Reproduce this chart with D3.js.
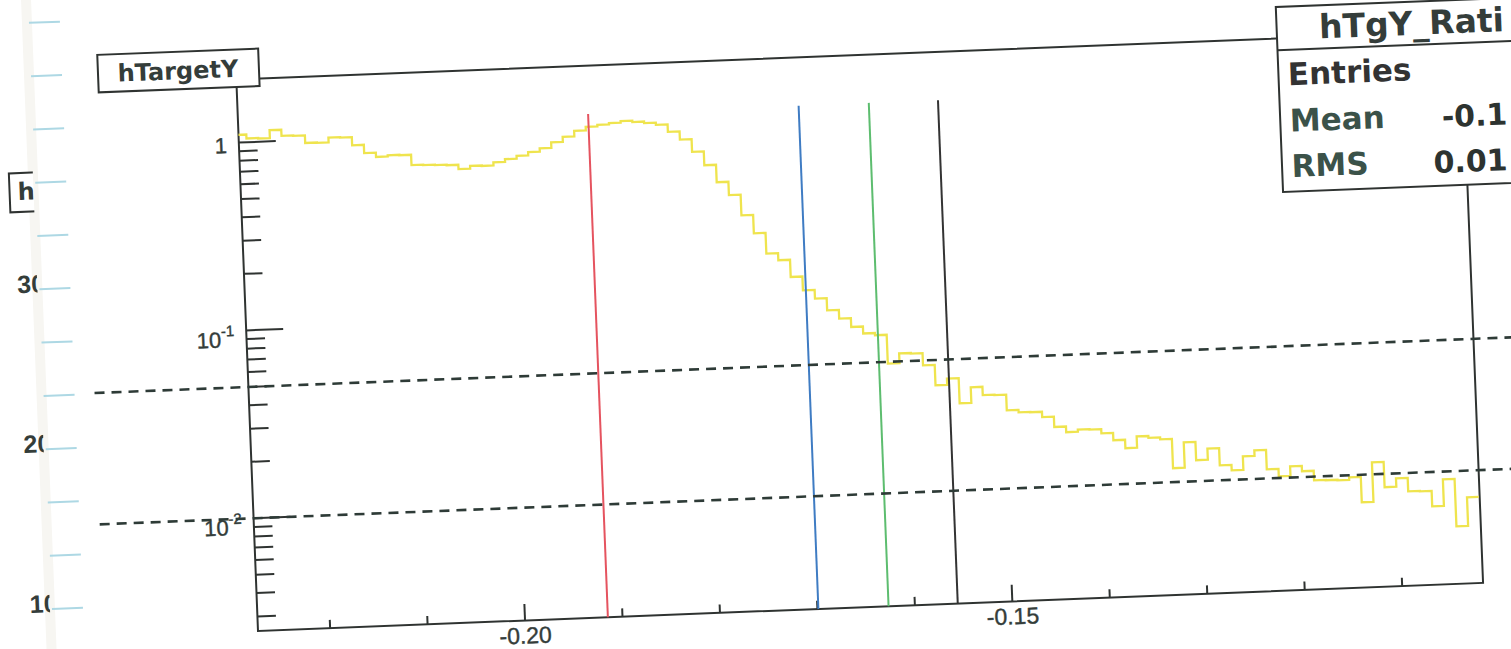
<!DOCTYPE html>
<html><head><meta charset="utf-8">
<script src="https://cdn.jsdelivr.net/npm/d3@7"></script>
<style>html,body{margin:0;padding:0;background:#fff;overflow:hidden}</style>
</head><body>
<svg id="c" width="1511" height="649"></svg>
<script>
// ---------------- data ----------------
const binStart = -0.2278;
const binWidth = 0.0012;
const hTargetY = [
 1.10, 1.047, 1.041, 1.146, 1.063, 1.057, 0.964, 0.959, 1.018, 1.012,
 0.916, 0.827, 0.785, 0.797, 0.793, 0.698, 0.694, 0.690, 0.686, 0.650,
 0.672, 0.668, 0.694, 0.718, 0.744, 0.775, 0.807, 0.862, 0.918, 0.983,
 1.025, 1.044, 1.063, 1.083, 1.064, 1.045, 1.016, 0.927, 0.838, 0.718,
 0.606, 0.489, 0.415, 0.322, 0.257, 0.1995, 0.1827, 0.148, 0.125, 0.1123,
 0.0967, 0.0869, 0.078, 0.0716, 0.0697, 0.0489, 0.0551, 0.0547, 0.0471, 0.0367,
 0.0396, 0.0291, 0.0352, 0.0318, 0.0316, 0.0261, 0.0253, 0.0252, 0.0236, 0.0208,
 0.0194, 0.0199, 0.0198, 0.0188, 0.0172, 0.0155, 0.0178, 0.0174, 0.0170, 0.01186,
 0.0162, 0.01294, 0.01483, 0.0120, 0.01124, 0.01327, 0.01419, 0.01119, 0.0102, 0.01148,
 0.01074, 0.00955, 0.00951, 0.00945, 0.00975, 0.00714, 0.01159, 0.00849, 0.00942, 0.00798,
 0.00793, 0.00656, 0.00909, 0.00508, 0.00721
];
const xDomain = [-0.2274, -0.1017];
const yDomain = [0.002512, 2.168];
const xMajorTicks = [-0.20, -0.15];
const xTickLabels = ["-0.20", "-0.15"];
const yMajorTicks = [1, 0.1, 0.01];
const yTickLabels = [["1", ""], ["10", "-1"], ["10", "-2"]];
const cutValues = [-0.1915, -0.1699, -0.1627, -0.1556];
const cutTop = 1.2;
const refLevels = [0.05, 0.01];
const histTitle = "hTargetY";
const statsTitle = "hTgY_Rati";
const statsLabels = ["Entries", "Mean", "RMS"];
const statsValues = ["", "-0.1", "0.01"];
// remnant of the neighbouring pad on the far left
const remTitle = "h";
const remLabels = ["30", "20", "10"];
const remLabelValues = [30, 20, 10];

// ---------------- layout ----------------
const W = 1226, H = 552;
const svg = d3.select("#c");
svg.append("rect").attr("width", 1511).attr("height", 649).attr("fill", "#fff");

const g = svg.append("g").attr("transform", "translate(258,631) rotate(-2.25)");

const x = d3.scaleLinear().domain(xDomain).range([0, W]);
const y = d3.scaleLog().domain(yDomain).range([0, -H]);

const ink = "#2f3331";
const txt = "#343d3a";

// clip paths
const defs = svg.append("defs");
defs.append("clipPath").attr("id", "frameClip")
  .append("rect").attr("x", 0).attr("y", -H).attr("width", W).attr("height", H);
defs.append("clipPath").attr("id", "remClip")
  .append("rect").attr("x", -400).attr("y", -700).attr("width", 193).attr("height", 800);

// ----- remnant pad on the left -----
const remY = d3.scaleLinear().domain([10, 30]).range([-30, -350]);
const rem = g.append("g");
rem.append("rect").attr("x", -212).attr("y", -700).attr("width", 10).attr("height", 760)
  .attr("fill", "#f7f6f2");
const remTicks = d3.range(0, 12).map(k => 10 + k * 10 / 3);
rem.selectAll("line.rt").data(remTicks).join("line")
  .attr("x1", -205).attr("x2", -174)
  .attr("y1", d => remY(d)).attr("y2", d => remY(d))
  .attr("stroke", "#add8e4").attr("stroke-width", 2);
const remC = rem.append("g").attr("clip-path", "url(#remClip)");
remC.append("rect").attr("x", -231).attr("y", -467).attr("width", 60).attr("height", 39)
  .attr("fill", "#fff").attr("stroke", ink).attr("stroke-width", 2);
remC.append("text").attr("x", -223).attr("y", -440).text(remTitle)
  .attr("font-family", "DejaVu Sans").attr("font-weight", "bold").attr("font-size", 24).attr("fill", txt);
remC.selectAll("text.rl").data(remLabels).join("text")
  .attr("x", -227).attr("y", (d, i) => remY(remLabelValues[i]) + 3).text(d => d)
  .attr("font-family", "Liberation Sans").attr("font-weight", "bold").attr("font-size", 25).attr("fill", txt);

// ----- frame -----
g.append("rect").attr("x", 0).attr("y", -H).attr("width", W).attr("height", H)
  .attr("fill", "none").attr("stroke", ink).attr("stroke-width", 2);

// x ticks
const xt = x.ticks(13);
g.selectAll("line.xt").data(xt).join("line")
  .attr("x1", d => x(d)).attr("x2", d => x(d)).attr("y1", 0)
  .attr("y2", d => xMajorTicks.some(m => Math.abs(m - d) < 1e-9) ? -16.6 : -8.3)
  .attr("stroke", ink).attr("stroke-width", 2);
g.selectAll("text.xl").data(xMajorTicks).join("text")
  .attr("x", d => x(d)).attr("y", 23).attr("text-anchor", "middle")
  .text((d, i) => xTickLabels[i])
  .attr("font-family", "Liberation Sans").attr("font-size", 23).attr("fill", txt)
  .attr("stroke", txt).attr("stroke-width", 0.4);

// y ticks
const yt = y.ticks();
const isMajor = t => Math.abs(Math.log10(t) - Math.round(Math.log10(t))) < 1e-6;
g.selectAll("line.yt").data(yt).join("line")
  .attr("x1", 0).attr("x2", d => isMajor(d) ? 37 : 18.5)
  .attr("y1", d => y(d)).attr("y2", d => y(d))
  .attr("stroke", ink).attr("stroke-width", 2);
yMajorTicks.forEach((v, i) => {
  const [base, sup] = yTickLabels[i];
  const t = g.append("text").attr("x", -12).attr("y", y(v) + (sup ? 16 : 10))
    .attr("text-anchor", "end")
    .attr("font-family", "Liberation Sans").attr("font-size", 22).attr("fill", txt)
    .attr("stroke", txt).attr("stroke-width", 0.4);
  t.append("tspan").text(base);
  if (sup) t.append("tspan").attr("dy", -11).attr("font-size", 15).text(sup);
});

// ----- histogram -----
const pts = hTargetY.map((v, i) => [binStart + i * binWidth, v]);
pts.push([binStart + hTargetY.length * binWidth, hTargetY[hTargetY.length - 1]]);
const line = d3.line().x(d => x(d[0])).y(d => y(d[1])).curve(d3.curveStepAfter);
g.append("path").attr("d", line(pts)).attr("clip-path", "url(#frameClip)")
  .attr("fill", "none").attr("stroke", "#efe44e").attr("stroke-width", 2.3);

// ----- cut lines -----
const cutColors = ["#e5535f", "#3f7cc3", "#5dbd6f", "#333333"];
g.selectAll("line.cut").data(cutValues).join("line")
  .attr("x1", d => x(d)).attr("x2", d => x(d))
  .attr("y1", y(yDomain[0])).attr("y2", y(cutTop))
  .attr("stroke", (d, i) => cutColors[i]).attr("stroke-width", 2);

// ----- reference dashed levels -----
g.selectAll("line.ref").data(refLevels).join("line")
  .attr("x1", -154).attr("x2", 1320)
  .attr("y1", d => y(d)).attr("y2", d => y(d))
  .attr("stroke", "#2e3b37").attr("stroke-width", 2.6).attr("stroke-dasharray", "10,7");

// ----- title box -----
g.append("rect").attr("x", -138).attr("y", -582).attr("width", 161).attr("height", 37.5)
  .attr("fill", "#fff").attr("stroke", ink).attr("stroke-width", 2);
g.append("text").attr("x", -58).attr("y", -554.5).attr("text-anchor", "middle").text(histTitle)
  .attr("font-family", "DejaVu Sans").attr("font-weight", "bold").attr("font-size", 24).attr("fill", txt);

// ----- stats box -----
g.append("rect").attr("x", 1041.5).attr("y", -583.5).attr("width", 420).attr("height", 185)
  .attr("fill", "#fff").attr("stroke", ink).attr("stroke-width", 2);
g.append("line").attr("x1", 1041.5).attr("x2", 1461.5).attr("y1", -540.4).attr("y2", -540.4)
  .attr("stroke", ink).attr("stroke-width", 2);
g.append("text").attr("x", 1084).attr("y", -550.5).text(statsTitle)
  .attr("font-family", "DejaVu Sans").attr("font-weight", "bold").attr("font-size", 33).attr("fill", txt);
const rowY = [-505, -458.5, -413];
const valX = [0, 1203, 1193];
statsLabels.forEach((s, i) => {
  g.append("text").attr("x", 1051).attr("y", rowY[i]).text(s)
    .attr("font-family", "DejaVu Sans").attr("font-weight", "bold").attr("font-size", 31)
    .attr("fill", i === 0 ? "#333" : "#3b5249");
  if (statsValues[i]) g.append("text").attr("x", valX[i]).attr("y", rowY[i] + 1.5)
    .text(statsValues[i])
    .attr("font-family", "DejaVu Sans").attr("font-weight", "bold").attr("font-size", 30).attr("fill", "#2d3330");
});
</script>
</body></html>
